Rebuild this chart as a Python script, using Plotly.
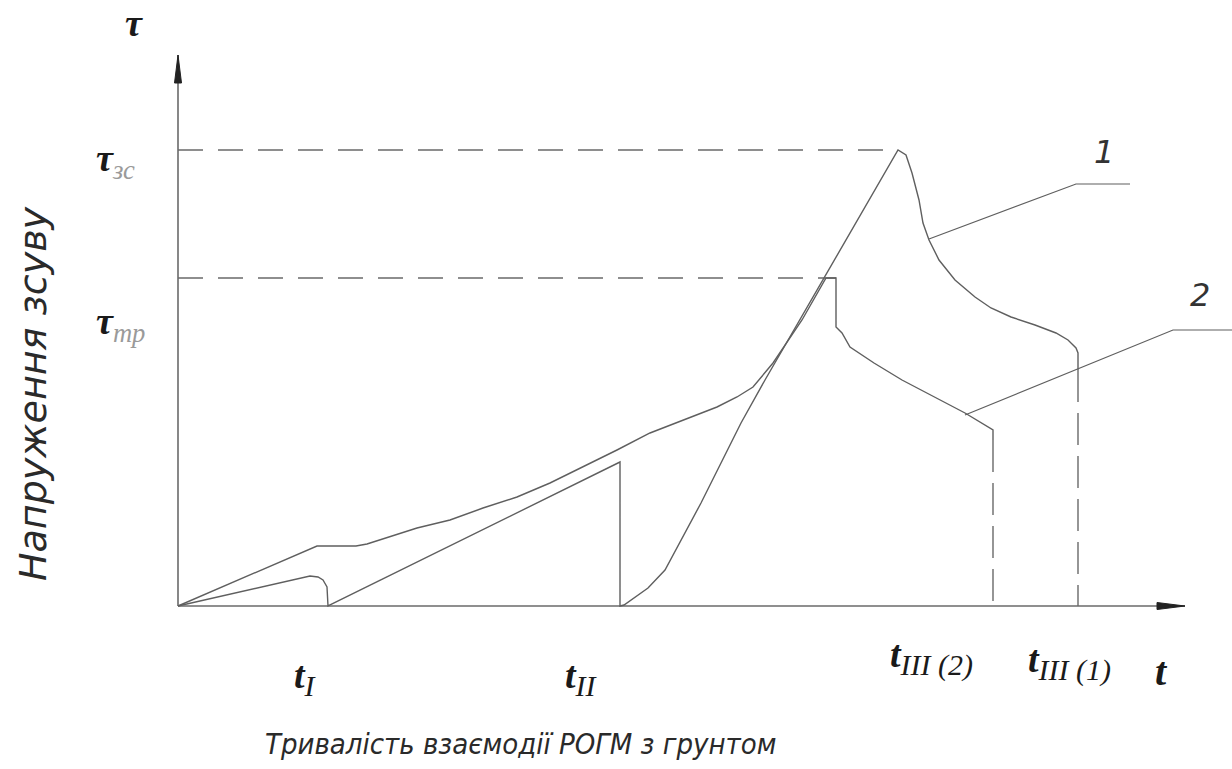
import plotly.graph_objects as go

# ---- data (t, tau in drawing units; origin at axes intersection) ----
# curve 1: saw-tooth stage I, stage II, then main peak tau_zs
c1_t   = [0, 39, 72, 112, 132, 140, 145, 149, 150, 150,
          442, 442,
          446, 470, 487, 503, 523, 543, 563, 587, 720,
          728, 734, 741, 745, 751, 761, 777, 797, 813, 833, 857, 878, 890, 898, 900, 900]
c1_tau = [0, 9, 16, 26, 30, 29, 26, 19, 6, 0,
          144, 0,
          1, 18, 36, 66, 103, 143, 183, 226, 456,
          451, 433, 406, 383, 366, 346, 326, 309, 298, 289, 281, 273, 266, 258, 253, 236]

# curve 2: smooth rise to tau_tr plateau, then decay
c2_t   = [0, 139, 178, 189, 239, 272, 305, 339, 372, 405, 439, 472, 503, 539, 559, 575,
          595, 624, 648, 658, 658, 664, 672, 696, 724, 757, 787, 815, 815]
c2_tau = [0, 60, 60, 62, 78, 86, 98, 109, 123, 139, 156, 173, 185, 199, 209, 219,
          243, 286, 328, 328, 279, 273, 259, 243, 226, 209, 193, 176, 166]

tau_zs = 456          # shear strength level
tau_tr = 328          # friction level
t_peak1 = 720
t_peak2 = 658
t_III_2 = 815
t_III_1 = 900
t_III_2_top = 166
t_III_1_top = 236

t_axis_end = 1007
tau_axis_end = 551

# leader lines for curve numbers
lead1_t   = [751, 898, 952]
lead1_tau = [367, 422, 422]
lead2_t   = [787, 995, 1060]
lead2_tau = [191, 276, 276]
curve_labels = ["1", "2"]
curve_label_t = [926, 1022]
curve_label_tau = [454, 311]

# axis tick labels
SUB = "<sub><span style='font-size:30px'><i>{}</i></span></sub>"
t_tick_labels = ["<b><i>t</i></b>" + SUB.format("I"), "<b><i>t</i></b>" + SUB.format("II"),
                 "<b><i>t</i></b>" + SUB.format("III (2)"), "<b><i>t</i></b>" + SUB.format("III (1)")]
t_tick_pos = [114, 385, 710, 848]
t_tick_level = [-72, -72, -51, -56]
tau_tick_labels = ["<b><i>τ</i></b><sub><span style='color:#9a9a9a'><i>зс</i></span></sub>",
                   "<b><i>τ</i></b><sub><span style='color:#9a9a9a'><i>тр</i></span></sub>"]
tau_tick_pos = [445, 282]

LINE = "#5f5f5f"
fig = go.Figure()

def line(x, y, dash="solid", w=1.4, color=LINE):
    fig.add_trace(go.Scatter(x=x, y=y, mode="lines", hoverinfo="skip",
                             line=dict(color=color, width=w, dash=dash)))

# axes
line([0, t_axis_end], [0, 0], w=1.6, color="#6a6a6a")
line([0, 0], [0, tau_axis_end], w=1.6, color="#6a6a6a")
# arrow heads
ah = 28
fig.add_trace(go.Scatter(x=[t_axis_end, t_axis_end - ah, t_axis_end - ah, t_axis_end],
                         y=[0, 3.5, -3.5, 0], mode="lines", fill="toself",
                         fillcolor="#222", line=dict(color="#222", width=1), hoverinfo="skip"))
fig.add_trace(go.Scatter(x=[0, 3.5, -3.5, 0],
                         y=[tau_axis_end, tau_axis_end - ah, tau_axis_end - ah, tau_axis_end],
                         mode="lines", fill="toself",
                         fillcolor="#222", line=dict(color="#222", width=1), hoverinfo="skip"))

# dashed guide lines
HDASH = "25px,15px"
VDASH = "32px,11px"
line([0, t_peak1], [tau_zs, tau_zs], dash=HDASH, color="#6a6a6a")
line([0, t_peak2], [tau_tr, tau_tr], dash=HDASH, color="#6a6a6a")
line([t_III_2, t_III_2], [t_III_2_top, 0], dash=VDASH, color="#6a6a6a")
line([t_III_1, t_III_1], [t_III_1_top, 0], dash=VDASH, color="#6a6a6a")

# curves
line(c1_t, c1_tau)
line(c2_t, c2_tau)
line(lead1_t, lead1_tau, w=1.2)
line(lead2_t, lead2_tau, w=1.2)

ann = []
for lab, x, y in zip(curve_labels, curve_label_t, curve_label_tau):
    ann.append(dict(x=x, y=y, text=f"<i>{lab}</i>", showarrow=False,
                    font=dict(family="DejaVu Sans", size=32, color="#333")))
for lab, x, y in zip(t_tick_labels, t_tick_pos, t_tick_level):
    ann.append(dict(x=x, y=y, text=lab, showarrow=False, xanchor="left",
                    font=dict(family="Liberation Serif", size=38, color="#1a1a1a")))
for lab, y in zip(tau_tick_labels, tau_tick_pos):
    ann.append(dict(x=-84, y=y, text=lab, showarrow=False, xanchor="left",
                    font=dict(family="Liberation Serif", size=38, color="#1a1a1a")))
ann.append(dict(x=-44, y=583, text="<b><i>τ</i></b>", showarrow=False,
                font=dict(family="Liberation Serif", size=38, color="#1a1a1a")))
ann.append(dict(x=983, y=-65, text="<b><i>t</i></b>", showarrow=False,
                font=dict(family="Liberation Serif", size=40, color="#1a1a1a")))
ann.append(dict(x=342, y=-138, text="<i>Тривалість взаємодії РОГМ з грунтом</i>", showarrow=False,
                font=dict(family="DejaVu Sans Condensed, DejaVu Sans", size=29, color="#2a2a2a")))
ann.append(dict(x=-145, y=212, text="<i>Напруження зсуву</i>", showarrow=False, textangle=-90,
                font=dict(family="DejaVu Sans", size=38, color="#2a2a2a")))

fig.update_layout(
    width=1232, height=769, margin=dict(l=0, r=0, t=0, b=0),
    paper_bgcolor="white", plot_bgcolor="white", showlegend=False,
    xaxis=dict(range=[-178, 1054], visible=False, fixedrange=True),
    yaxis=dict(range=[-163, 606], visible=False, fixedrange=True),
    annotations=ann,
)
fig.write_html("out.html", config=dict(displayModeBar=False),
               post_script="document.body.style.margin='0';document.body.style.overflow='hidden';")
